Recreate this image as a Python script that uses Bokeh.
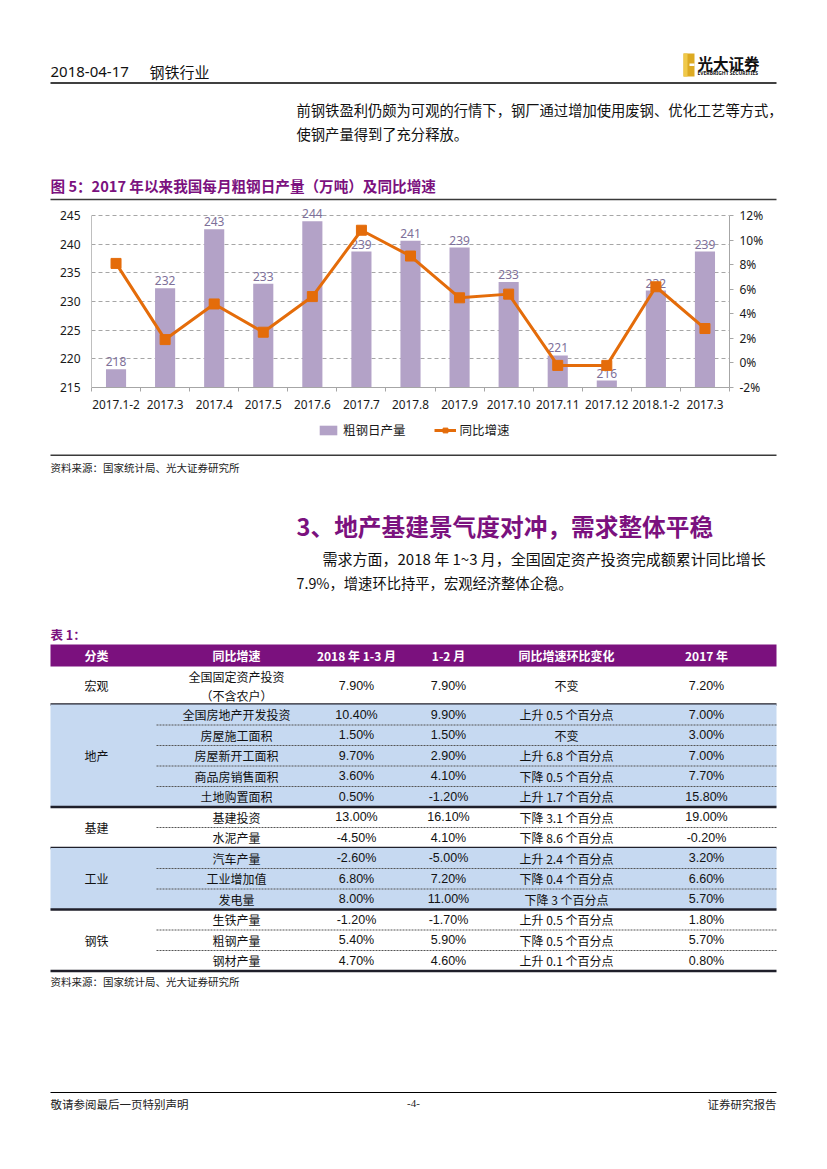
import numpy as np
from bokeh.plotting import figure
from bokeh.models import (Range1d, LinearAxis, FixedTicker, PrintfTickFormatter,
                          CustomJSTickFormatter, Legend, LegendItem)
from bokeh.core.properties import value
from bokeh.embed import file_html
from bokeh.resources import INLINE

# ---------------- data ----------------
months = ["2017.1-2", "2017.3", "2017.4", "2017.5", "2017.6", "2017.7", "2017.8",
          "2017.9", "2017.10", "2017.11", "2017.12", "2018.1-2", "2017.3"]
daily_output = [218.2, 232.3, 242.6, 233.1, 244.0, 238.7, 240.6, 239.4, 233.4,
                220.6, 216.2, 231.9, 238.7]
yoy_growth = [8.1, 1.9, 4.8, 2.5, 5.4, 10.8, 8.7, 5.3, 5.6, -0.2, -0.2, 6.2, 2.8]
left_ticks = [215, 220, 225, 230, 235, 240, 245]
right_ticks = [-2, 0, 2, 4, 6, 8, 10, 12]
series_names = ["粗钢日产量", "同比增速"]

tbl_header = ["分类", "同比增速", "2018 年 1-3 月", "1-2 月", "同比增速环比变化", "2017 年"]
groups = ["宏观", "地产", "基建", "工业", "钢铁"]
group_sizes = [1, 5, 2, 3, 3]
indicators = ["全国固定资产投资\n（不含农户）", "全国房地产开发投资", "房屋施工面积",
              "房屋新开工面积", "商品房销售面积", "土地购置面积", "基建投资", "水泥产量",
              "汽车产量", "工业增加值", "发电量", "生铁产量", "粗钢产量", "钢材产量"]
q1_2018 = ["7.90%", "10.40%", "1.50%", "9.70%", "3.60%", "0.50%", "13.00%", "-4.50%",
           "-2.60%", "6.80%", "8.00%", "-1.20%", "5.40%", "4.70%"]
jan_feb = ["7.90%", "9.90%", "1.50%", "2.90%", "4.10%", "-1.20%", "16.10%", "4.10%",
           "-5.00%", "7.20%", "11.00%", "-1.70%", "5.90%", "4.60%"]
change = ["不变", "上升 0.5 个百分点", "不变", "上升 6.8 个百分点", "下降 0.5 个百分点",
          "上升 1.7 个百分点", "下降 3.1 个百分点", "下降 8.6 个百分点", "上升 2.4 个百分点",
          "下降 0.4 个百分点", "下降 3 个百分点", "上升 0.5 个百分点", "下降 0.5 个百分点",
          "上升 0.1 个百分点"]
y2017 = ["7.20%", "7.00%", "3.00%", "7.00%", "7.70%", "15.80%", "19.00%", "-0.20%",
         "3.20%", "6.60%", "5.70%", "1.80%", "5.70%", "0.80%"]

header_date = "2018-04-17"
header_sector = "钢铁行业"
para1 = ["前钢铁盈利仍颇为可观的行情下，钢厂通过增加使用废钢、优化工艺等方式，",
         "使钢产量得到了充分释放。"]
fig_title = "图 5：2017 年以来我国每月粗钢日产量（万吨）及同比增速"
source_text = "资料来源：国家统计局、光大证券研究所"
section_title = "3、地产基建景气度对冲，需求整体平稳"
para2 = ["需求方面，2018 年 1~3 月，全国固定资产投资完成额累计同比增长",
         "7.9%，增速环比持平，宏观经济整体企稳。"]
table_title = "表 1："
footer = ["敬请参阅最后一页特别声明", "-4-", "证券研究报告"]

# ---------------- styles ----------------
W = 811
O = 1          # page coordinate of the canvas' top-left corner
CJK = "Noto Sans CJK SC"
LAT = "Noto Sans"
PURPLE = "#7B117E"
BAR = "#B3A2C7"
ORANGE = "#E46C0A"
GRID = "#A6A6A6"
BLUE = "#C6D9F1"


def page_fig(top, bottom):
    f = figure(width=W, height=bottom - top, x_range=Range1d(O, O + W),
               y_range=Range1d(bottom, top), output_backend="svg",
               toolbar_location=None, x_axis_type=None, y_axis_type=None,
               min_border=0)
    f.outline_line_color = None
    f.grid.visible = False
    return f


def T(f, x, y, s, size, color="#000000", font=CJK, align="left",
      baseline="middle", style="normal"):
    f.text(x=[x], y=[y], text=[s], text_font=value(font), text_font_size=size,
           text_color=color, text_align=align, text_baseline=baseline,
           text_font_style=style)


def H(f, x0, x1, y, width=1.0, color="#000000", dash="solid"):
    f.segment(x0=[x0], y0=[y], x1=[x1], y1=[y], line_width=width,
              line_color=color, line_dash=dash)


# ---------------- top part ----------------
top = page_fig(O, 202)
T(top, 51, 72, header_date, "15px", "#111111", LAT)
T(top, 150, 72, header_sector, "15px", "#111111")
H(top, 51, 777, 83.5, 1.4, "#000000")
# logo
top.quad(left=[684], right=[695], top=[54], bottom=[77], fill_color="#DDAA22",
         line_color=None)
top.quad(left=[690], right=[695], top=[64], bottom=[66.5], fill_color="white",
         line_color=None)
top.quad(left=[684], right=[688], top=[54], bottom=[77], fill_color="#F0C94A",
         line_color=None)
T(top, 698, 63, "光大证券", "15.5px", "#111111", CJK, style="bold")
T(top, 698, 73.5, "EVERBRIGHT SECURITIES", "5px", "#111111", LAT, style="bold")
for i, s in enumerate(para1):
    T(top, 297, 110 + 24 * i, s, "14.3px", "#111111")
T(top, 51, 186, fig_title, "14.6px", PURPLE, CJK, style="bold")
H(top, 51, 777, 200, 1.5, "#3a3a3a")

# ---------------- chart ----------------
n = len(months)
xs = np.arange(n) + 0.5
PLOT_H = 172          # pixel height of the 215..245 band
PAD_TOP = 12          # extra room above it for the value labels
l_lo, l_hi = left_ticks[0], left_ticks[-1]
r_lo, r_hi = right_ticks[0], right_ticks[-1]
c = figure(frame_width=638, frame_height=PLOT_H + PAD_TOP, x_range=Range1d(0, n),
           y_range=Range1d(l_lo, l_hi + PAD_TOP * (l_hi - l_lo) / PLOT_H),
           output_backend="svg", toolbar_location=None,
           min_border_left=92 - O, min_border_right=88, min_border_top=2,
           min_border_bottom=30)
c.outline_line_color = None
c.xgrid.visible = False
c.ygrid.grid_line_color = GRID
c.ygrid.grid_line_dash = "4 3"
c.ygrid.grid_line_width = 1

c.yaxis.ticker = FixedTicker(ticks=left_ticks)
c.yaxis.bounds = (l_lo, l_hi)
c.yaxis.axis_line_color = "#BFBFBF"
c.yaxis.major_tick_out = 0
c.yaxis.major_tick_in = 0
c.yaxis.minor_tick_line_color = None
c.yaxis.major_label_standoff = 11
c.yaxis.major_label_text_font = LAT
c.yaxis.major_label_text_font_size = "12px"
c.yaxis.major_label_text_color = "#1a1a1a"

c.xaxis.ticker = FixedTicker(ticks=list(xs), minor_ticks=list(range(0, n + 1)))
c.xaxis.formatter = CustomJSTickFormatter(
    args=dict(labels=months),
    code="const i = Math.floor(tick); return (i >= 0 && i < labels.length) ? labels[i] : '';")
c.xaxis.axis_line_color = GRID
c.xaxis.major_tick_out = 0
c.xaxis.major_tick_in = 0
c.xaxis.minor_tick_out = 4
c.xaxis.minor_tick_in = 0
c.xaxis.minor_tick_line_color = GRID
c.xaxis.major_label_standoff = 8
c.xaxis.major_label_text_font = LAT
c.xaxis.major_label_text_font_size = "11.8px"
c.xaxis.major_label_text_color = "#1a1a1a"

c.extra_y_ranges = {"pct": Range1d(r_lo, r_hi + PAD_TOP * (r_hi - r_lo) / PLOT_H)}
ra = LinearAxis(y_range_name="pct", ticker=FixedTicker(ticks=right_ticks),
                formatter=PrintfTickFormatter(format="%d%%"), bounds=(r_lo, r_hi))
ra.axis_line_color = GRID
ra.major_tick_out = 4
ra.major_tick_in = 0
ra.major_tick_line_color = GRID
ra.minor_tick_line_color = None
ra.major_label_standoff = 6
ra.major_label_text_font = LAT
ra.major_label_text_font_size = "12px"
ra.major_label_text_color = "#1a1a1a"
c.add_layout(ra, "right")

c.vbar(x=xs, top=daily_output, bottom=l_lo, width=0.41,
       fill_color=BAR, line_color=None)
c.text(x=xs, y=daily_output, text=[str(round(v)) for v in daily_output],
       text_align="center", text_baseline="bottom", y_offset=-3,
       text_font=value(LAT), text_font_size="12px", text_color="#7E7099")
c.line(xs, yoy_growth, y_range_name="pct", line_color=ORANGE, line_width=3)
c.scatter(xs, yoy_growth, y_range_name="pct", marker="square", size=10,
          fill_color=ORANGE, line_color=ORANGE)

# ---------------- bottom part ----------------
B0 = 388 + 30
b = page_fig(B0, 1161)

# legend of the chart: hidden key renderers carrying the chart's styles
kb = b.vbar(x=xs[:1], top=daily_output[:1], width=1, fill_color=BAR,
            line_color=None, visible=False)
kl = b.line(x=xs[:1], y=yoy_growth[:1], line_color=ORANGE, line_width=3,
            visible=False)
ks = b.scatter(x=xs[:1], y=yoy_growth[:1], marker="square", size=10,
               fill_color=ORANGE, line_color=ORANGE, visible=False)
leg = Legend(items=[LegendItem(label=series_names[0], renderers=[kb]),
                    LegendItem(label=series_names[1], renderers=[kl, ks])],
             orientation="horizontal", location=(318 - O, 1161 - 440),
             border_line_color=None, background_fill_alpha=0,
             inactive_fill_alpha=0,
             label_text_font=CJK, label_text_font_size="12.5px",
             label_text_color="#1a1a1a", glyph_width=22, glyph_height=12,
             spacing=28, padding=2, margin=0, label_standoff=4)
b.add_layout(leg)

H(b, 51, 777, 455.7, 1.5, "#3a3a3a")
T(b, 51, 468, source_text, "10.5px", "#222222")
T(b, 297, 526, section_title, "23.7px", PURPLE, CJK, style="bold")
T(b, 323, 559, para2[0], "15px", "#111111")
T(b, 297, 583, para2[1], "14.3px", "#111111")
T(b, 51, 635, table_title, "12.5px", PURPLE, CJK, style="bold")

col_x = [97, 237, 357, 449, 567, 707]
tx0, tx1 = 51, 777
head_top, head_bot = 645, 667
b.quad(left=[tx0], right=[tx1], top=[head_top], bottom=[head_bot],
       fill_color=PURPLE, line_color=None)
for x, s in zip(col_x, tbl_header):
    T(b, x, (head_top + head_bot) / 2, s, "12px", "white", CJK, "center", style="bold")

row_h = [38] + [20.5] * (len(indicators) - 1)
row_top = [head_bot + sum(row_h[:i]) for i in range(len(indicators))]
row_mid = [row_top[i] + row_h[i] / 2 for i in range(len(indicators))]

blue_groups = {"地产", "工业"}
start = 0
for g, cnt in zip(groups, group_sizes):
    g_top = row_top[start]
    g_bot = row_top[start + cnt - 1] + row_h[start + cnt - 1]
    if g in blue_groups:
        b.quad(left=[tx0], right=[tx1], top=[g_top], bottom=[g_bot],
               fill_color=BLUE, line_color=None)
    for k in range(start, start + cnt - 1):
        H(b, 157, tx1, row_top[k] + row_h[k], 1, "#555555", "2 1")
    T(b, col_x[0], (g_top + g_bot) / 2, g, "12px", "#111111", CJK, "center")
    H(b, tx0, tx1, g_bot, 2.5, "#1f1f2a")
    start += cnt

for i in range(len(indicators)):
    lines = indicators[i].split("\n")
    for j, s in enumerate(lines):
        yy = row_mid[i] + (j - (len(lines) - 1) / 2) * 19
        T(b, col_x[1], yy, s, "12px", "#111111", CJK, "center")
    T(b, col_x[2], row_mid[i], q1_2018[i], "12.5px", "#111111", "Liberation Sans", "center")
    T(b, col_x[3], row_mid[i], jan_feb[i], "12.5px", "#111111", "Liberation Sans", "center")
    T(b, col_x[4], row_mid[i], change[i], "12px", "#111111", CJK, "center")
    T(b, col_x[5], row_mid[i], y2017[i], "12.5px", "#111111", "Liberation Sans", "center")

T(b, 51, 982, source_text, "10.5px", "#222222")

H(b, 51, 777, 1093, 1.2, "#000000")
T(b, 51, 1104, footer[0], "11.5px", "#222222")
T(b, 414, 1104, footer[1], "11px", "#222222", "Liberation Serif", "center")
T(b, 777, 1104, footer[2], "11.5px", "#222222", CJK, "right")

open("out.html", "w").write(file_html([top, c, b], INLINE))
